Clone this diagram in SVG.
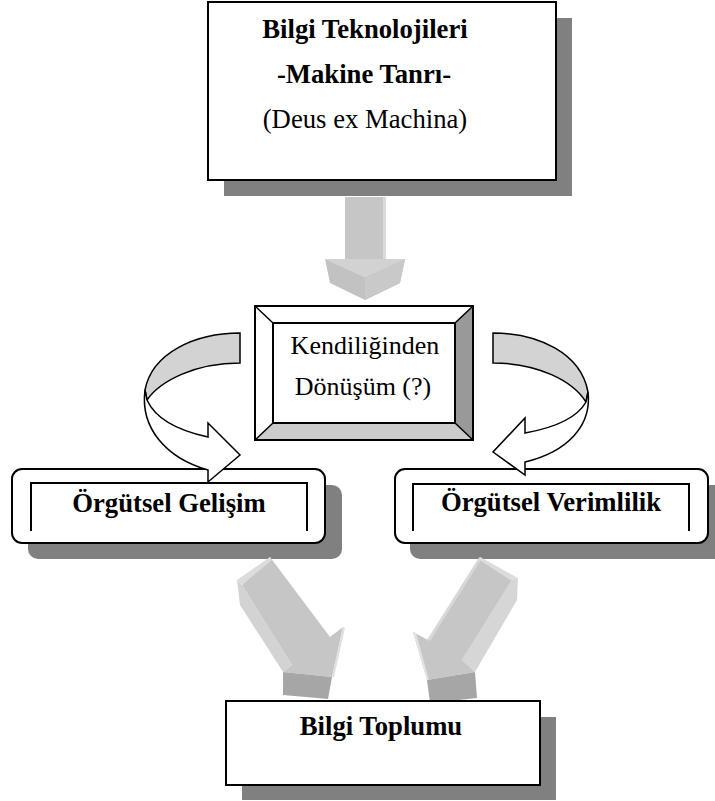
<svg xmlns="http://www.w3.org/2000/svg" width="715" height="801" viewBox="0 0 715 801">
<style>
.bt{font-family:"Liberation Serif","Times New Roman",serif;font-weight:bold;font-size:26.7px;fill:#000;text-anchor:middle}
.rt{font-family:"Liberation Serif","Times New Roman",serif;font-size:26.7px;fill:#000;text-anchor:middle}
.sh{fill:#808080}
.box{fill:#fff;stroke:#000;stroke-width:2}
.ln{fill:none;stroke:#000;stroke-width:2}
.cv{stroke:#000;stroke-width:1.5;stroke-linejoin:miter}
</style>
<rect width="715" height="801" fill="#fff"/>

<g id="node-bilgi-teknolojileri">
  <rect class="sh" x="224" y="18" width="348" height="178"/>
  <rect class="box" x="208" y="2" width="348" height="178"/>
  <text class="bt" x="365" y="38">Bilgi Teknolojileri</text>
  <text class="bt" x="364" y="83">-Makine Tanrı-</text>
  <text class="rt" x="365" y="128">(Deus ex Machina)</text>
</g>

<g id="node-kendiliginden-donusum">
  <rect x="255" y="306" width="218" height="134" fill="#fff"/>
  <polygon points="455,323 473,306 473,440 455,423" fill="#999"/>
  <polygon points="273,423 455,423 473,440 255,440" fill="#ccc"/>
  <rect x="255" y="306" width="218" height="134" fill="none" stroke="#000" stroke-width="2"/>
  <rect x="273" y="323" width="182" height="100" fill="#fff" stroke="#000" stroke-width="2"/>
  <path d="M255,306 L273,323 M473,306 L455,323 M255,440 L273,423 M473,440 L455,423" stroke="#000" stroke-width="1.5"/>
  <text class="rt" x="365" y="354" style="font-size:26px">Kendiliğinden</text>
  <text class="rt" x="363" y="395" style="font-size:26px">Dönüşüm (?)</text>
</g>

<g id="node-orgutsel-gelisim">
  <rect class="sh" x="28" y="485" width="314" height="74" rx="10"/>
  <rect class="box" x="12" y="469" width="313" height="74" rx="10"/>
  <path class="ln" d="M31,531 V483 H307 V531"/>
  <text class="bt" x="169" y="512">Örgütsel Gelişim</text>
</g>

<g id="node-orgutsel-verimlilik">
  <rect class="sh" x="410" y="485" width="314" height="74" rx="10"/>
  <rect class="box" x="395" y="469" width="313" height="74" rx="10"/>
  <path class="ln" d="M413,531 V484 H689 V531"/>
  <text class="bt" x="551" y="511">Örgütsel Verimlilik</text>
</g>

<g id="connectors">
  <!-- down arrow from top box -->
  <g id="arrow-down">
    <rect x="345" y="197" width="41" height="63" fill="#c6c6c6"/>
    <rect x="383" y="197" width="3" height="63" fill="#dadada"/>
    <polygon points="325,259 345,259 386,259 405,259 365,277" fill="#d2d2d2"/>
    <polygon points="325,259 365,277 405,259 400,283 365,300 330,283" fill="#c2c2c2"/>
    <polygon points="365,277 405,259 400,283 365,300" fill="#c9c9c9"/>
  </g>
  <!-- left curved arrow -->
  <g id="arrow-curve-left">
    <path class="cv" fill="#d3d3d3" d="M240,333 C195,333 152,353 145,390 L147,400 C160,381 195,363 240,363 Z"/>
    <path class="cv" fill="#fff" d="M145,390 C140,428 166,458 208,470 L208,482 L240,455 L208,423 L208,437 C180,431 156,420 147,400 Z"/>
  </g>
  <!-- right curved arrow -->
  <g id="arrow-curve-right">
    <path class="cv" fill="#d3d3d3" d="M493,333 C538,333 581,353 588,392 L586,402 C573,381 538,363 493,363 Z"/>
    <path class="cv" fill="#fff" d="M588,392 C592,426 567,452 525,462 L525,475 L493,452 L525,418 L525,433 C553,428 577,418 586,402 Z"/>
  </g>
  <!-- bottom-left diagonal arrow -->
  <g id="arrow-diag-left">
    <polygon points="237,580 242,585 292,665 283,672 240,605" fill="#d3d3d3"/>
    <polygon points="242,585 270,557 330,637 343,627 332,677 283,672 292,665" fill="#c6c6c6"/>
    <polygon points="237,580 270,557 272,560 242,585" fill="#dcdcdc"/>
    <polygon points="343,627 345,628 334,677 332,677" fill="#e0e0e0"/>
    <polygon points="283,672 332,677 328,699 283,695" fill="#a6a6a6"/>
  </g>
  <!-- bottom-right diagonal arrow -->
  <g id="arrow-diag-right">
    <polygon points="512,580 518,578 517,600 475,672 462,660" fill="#d6d6d6"/>
    <polygon points="480,557 512,580 462,660 475,672 427,680 413,632 428,640" fill="#c6c6c6"/>
    <polygon points="480,557 518,578 512,581 478,559" fill="#dcdcdc"/>
    <polygon points="413,632 416,633 429,680 427,680" fill="#e2e2e2"/>
    <polygon points="478,559 481,560 430,641 427,640" fill="#d8d8d8"/>
    <polygon points="427,680 475,672 477,698 430,703" fill="#a6a6a6"/>
  </g>
</g>

<g id="node-bilgi-toplumu">
  <rect class="sh" x="242" y="717" width="314" height="83"/>
  <rect class="box" x="226" y="701" width="314" height="84"/>
  <text class="bt" x="381" y="735">Bilgi Toplumu</text>
</g>
</svg>
